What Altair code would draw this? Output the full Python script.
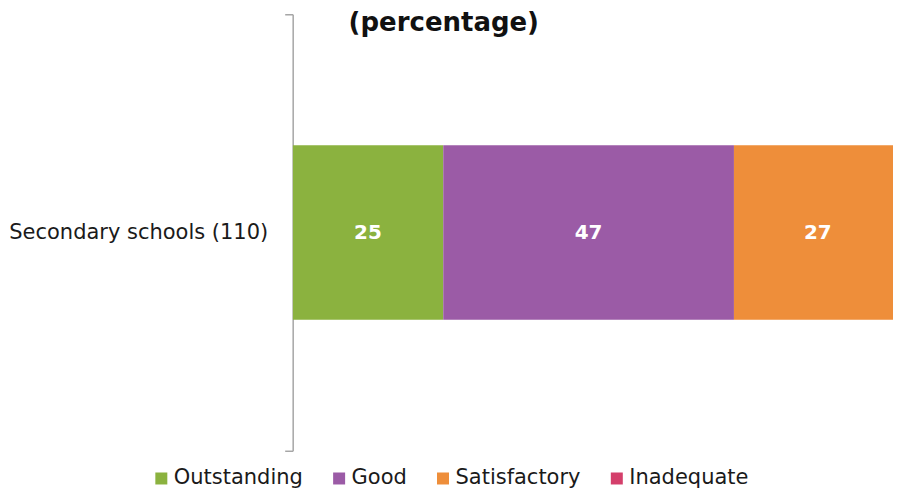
import altair as alt
import pandas as pd

categories = ["Outstanding", "Good", "Satisfactory", "Inadequate"]
values = [24.5, 47.3, 27.3, 0.9]
labels = [25, 47, 27, 1]
school = "Secondary schools (110)"
colors = ["#8BB23F", "#9B5BA6", "#EE8E3A", "#D43F6B"]

df = pd.DataFrame({
    "school": [school] * len(categories),
    "category": categories,
    "value": values,
    "label": labels,
    "order": list(range(len(categories))),
})

FONT = "DejaVu Sans"

base = alt.Chart(df).transform_window(
    cum="sum(value)", sort=[{"field": "order"}], frame=[None, 0]
).transform_calculate(
    start="datum.cum - datum.value", mid="datum.cum - datum.value / 2"
)

xscale = alt.Scale(domain=[0, 97.68], nice=False, zero=True)
yscale = alt.Scale(paddingInner=0, paddingOuter=0)

bars = base.mark_bar(clip=True, height=alt.RelativeBandSize(0.4)).encode(
    x=alt.X("start:Q", scale=xscale, axis=None),
    x2="cum:Q",
    y=alt.Y("school:N", scale=yscale, title=None,
            axis=alt.Axis(domainColor="#a6a6a6", tickColor="#a6a6a6", tickSize=8,
                          tickBand="extent", labelFontSize=21, labelFont=FONT,
                          labelColor="#1a1a1a", labelPadding=17, domainWidth=1.5,
                          tickWidth=1.5, labelLimit=400)),
    color=alt.Color("category:N", scale=alt.Scale(domain=categories, range=colors),
                    legend=alt.Legend(title=None, orient="none", direction="horizontal",
                                      legendX=-142, legendY=454, symbolType="square",
                                      symbolSize=144, symbolStrokeWidth=0,
                                      labelFontSize=21, labelFont=FONT, labelColor="#1a1a1a",
                                      labelOffset=2, columnPadding=25, padding=0)),
    order=alt.Order("order:Q"),
)

text = base.mark_text(clip=True, color="white", fontWeight="bold", fontSize=20, font=FONT).encode(
    x=alt.X("mid:Q", scale=xscale, axis=None),
    y=alt.Y("school:N", scale=yscale),
    text="label:Q",
)

chart = alt.layer(bars, text).properties(
    width=601, height=437,
    padding={"left": 0, "top": -5, "right": 0, "bottom": 0},
    title=alt.TitleParams("(percentage)", fontSize=26, font=FONT, fontWeight="bold",
                          anchor="start", frame="group", dx=56, dy=6, offset=-27,
                          color="#111111"),
).configure_view(stroke=None)

chart.save("out.html", embed_options={"renderer": "svg", "actions": False})
